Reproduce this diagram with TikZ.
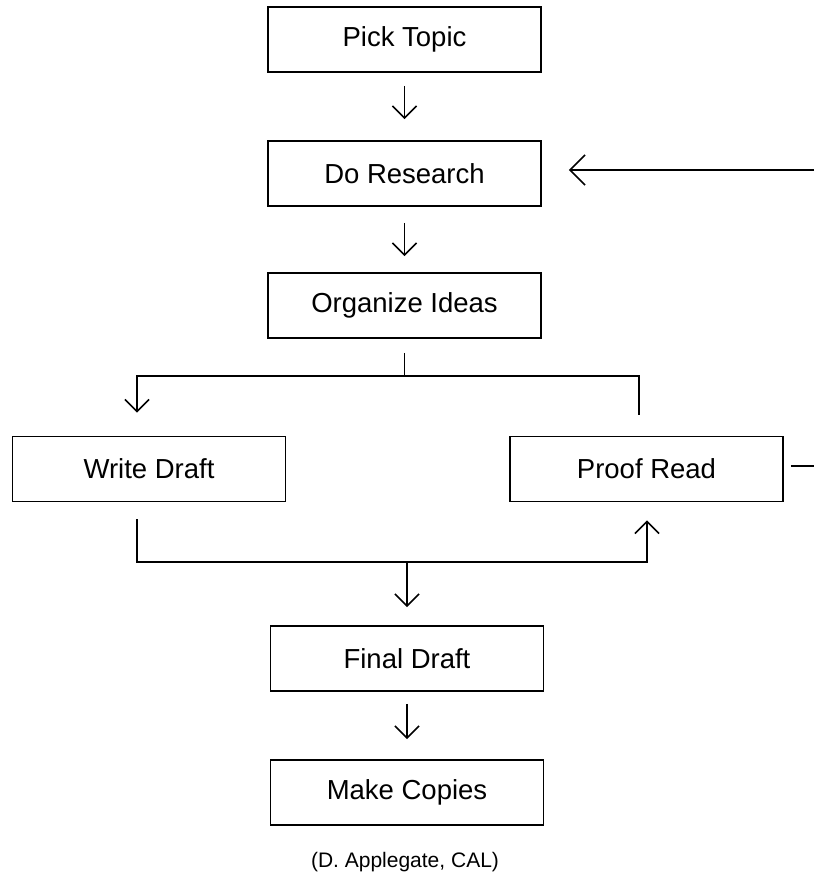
\documentclass[tikz,border=0pt]{standalone}
\usepackage{fontspec}
\setmainfont{Liberation Sans}
\usetikzlibrary{arrows.meta}
\begin{document}
\begin{tikzpicture}[x=1pt,y=-1pt,
  stepbox/.style={draw=black, line width=1.9pt, rectangle, inner sep=0pt,
    minimum width=273pt, minimum height=65pt,
    font=\fontsize{27.5}{31}\selectfont},
  link/.style={draw=black, line width=1.6pt},
  arr/.style={link, -{Straight Barb[length=12pt,width=24pt]}},
  bigarr/.style={link, -{Straight Barb[length=15pt,width=30pt]}},
  note/.style={font=\fontsize{21}{25}\selectfont, inner sep=0pt}]
\useasboundingbox[fill=white] (0,0) rectangle (814,877);

% process steps
\node[stepbox] (pick)  at (404.5,39.5)  {Pick Topic};
\node[stepbox] (do)    at (404.5,173.5) {Do Research};
\node[stepbox] (org)   at (404.5,305.5) {Organize Ideas};
\node[stepbox] (write) at (149,469)     {Write Draft};
\node[stepbox] (proof) at (646.5,469)   {Proof Read};
\node[stepbox] (final) at (407,658.5)   {Final Draft};
\node[stepbox] (make)  at (407,792.5)   {Make Copies};
\node[note]    (cred)  at (405,862)     {(D. Applegate, CAL)};

% junction points of the branching lines
\coordinate (jt) at (404.5,376);
\coordinate (jl) at (137,376);
\coordinate (jr) at (639,376);
\coordinate (bl) at (137,562);
\coordinate (br) at (647,562);
\coordinate (bm) at (407,562);
\coordinate (pe) at (814,466);
\coordinate (de) at (814,170);

% straight flow
\draw[arr, shorten <=13pt, shorten >=21pt] (pick) -- (do);
\draw[arr, shorten <=16pt, shorten >=16pt] (do) -- (org);

% split after organizing
\draw[link, shorten <=14pt] (org.south) -- (jt);
\draw[arr, shorten >=23pt] (jt) -- (jl) -- (jl |- write.north);
\draw[link, shorten >=21pt] (jt) -- (jr) -- (jr |- proof.north);

% merge below the drafts
\draw[arr, shorten <=17pt, shorten >=18pt]
  (bl |- write.south) -- (bl) -- (br) -- (br |- proof.south);
\draw[arr, shorten >=18pt] (bm) -- (final.north);
\draw[arr, shorten <=12pt, shorten >=20pt] (final) -- (make);

% loop back from proof reading to research
\draw[link, shorten <=7pt] (proof.east |- pe) -- (pe);
\draw[bigarr, shorten >=27pt] (de) -- (do.east |- de);
\end{tikzpicture}
\end{document}
